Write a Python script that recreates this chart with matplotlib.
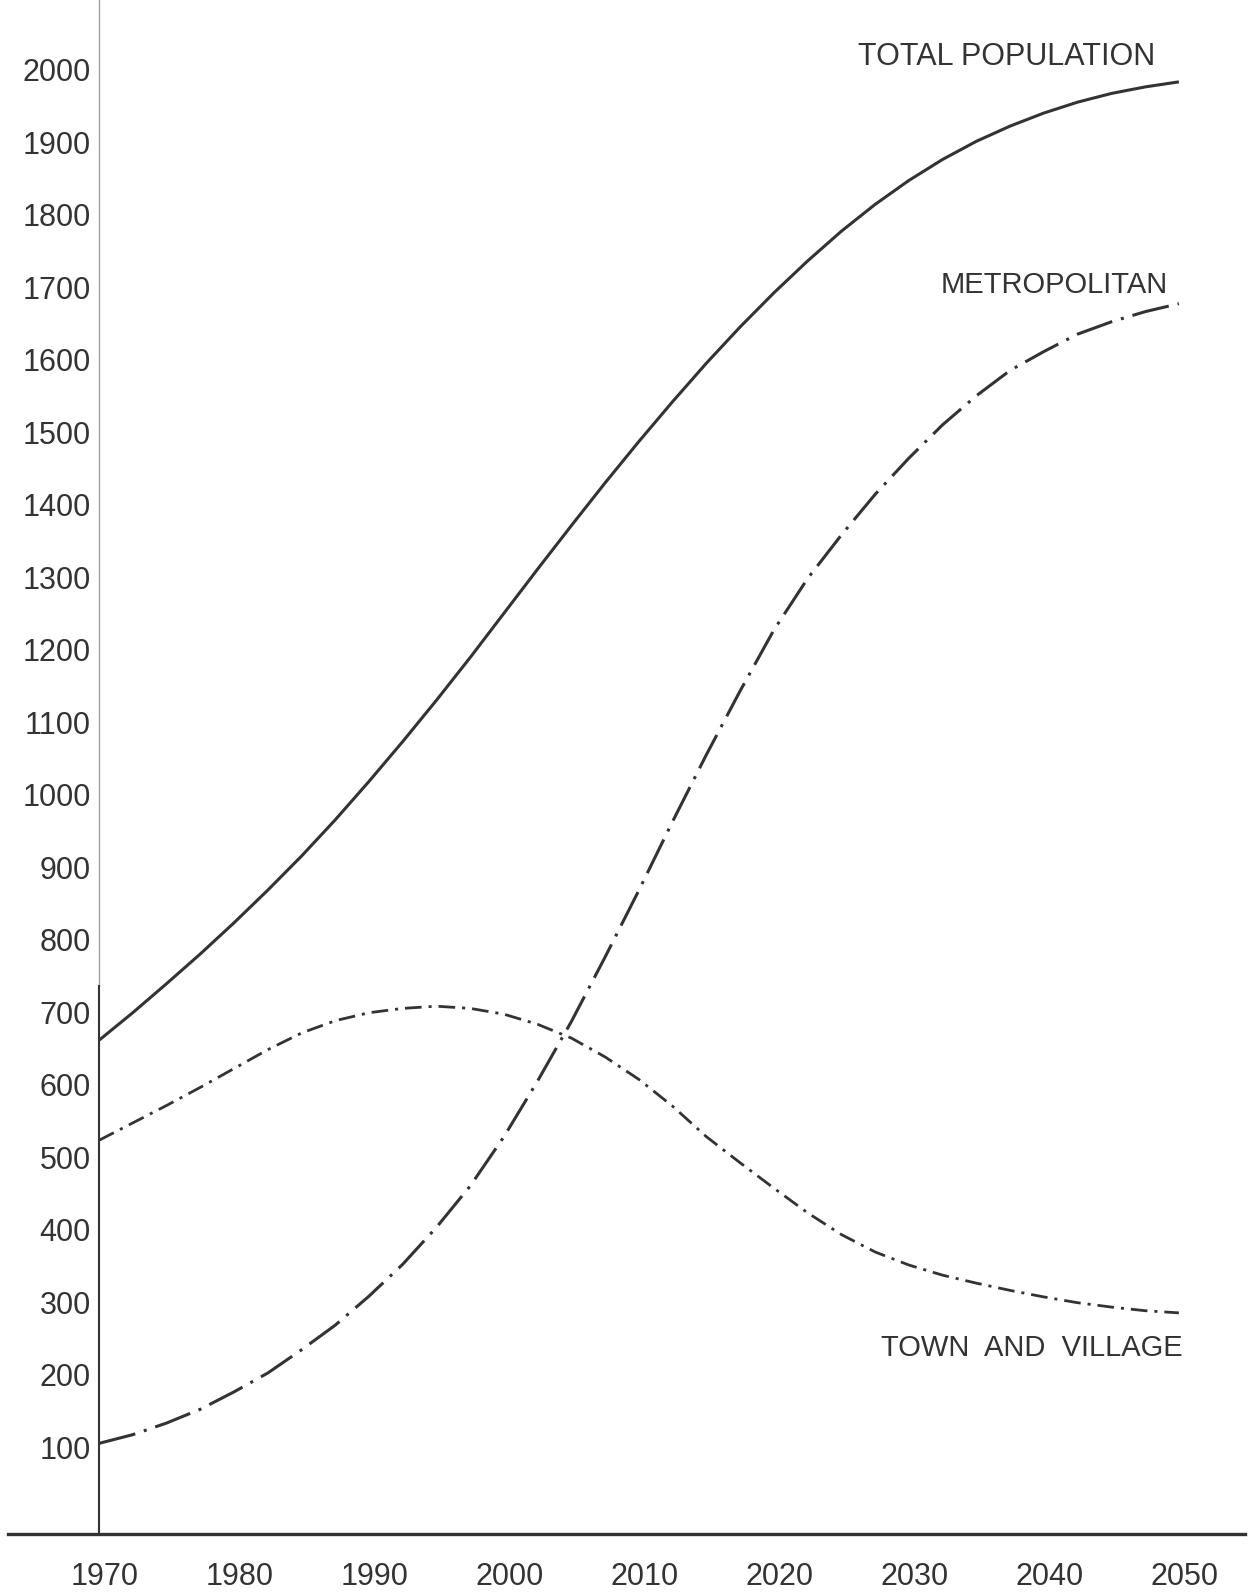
import matplotlib
matplotlib.use("Agg")
import matplotlib.pyplot as plt
from matplotlib.transforms import ScaledTranslation

# ---- data ----
years = [1970, 1972.5, 1975, 1977.5, 1980, 1982.5, 1985, 1987.5, 1990, 1992.5,
         1995, 1997.5, 2000, 2002.5, 2005, 2007.5, 2010, 2012.5, 2015, 2017.5,
         2020, 2022.5, 2025, 2027.5, 2030, 2032.5, 2035, 2037.5, 2040, 2042.5,
         2045, 2047.5, 2050]
total_population = [661, 699, 739, 780, 823, 868, 915, 965, 1018, 1073,
                    1130, 1189, 1250, 1311, 1371, 1430, 1487, 1542, 1595, 1645,
                    1692, 1736, 1777, 1814, 1847, 1876, 1901, 1922, 1940, 1955,
                    1967, 1976, 1983]
metropolitan = [105, 117, 133, 152, 176, 202, 234, 268, 308, 352,
                403, 460, 528, 605, 687, 776, 868, 963, 1055, 1143,
                1227, 1298, 1358, 1414, 1464, 1510, 1550, 1585, 1611, 1635,
                1652, 1666, 1677]
town_and_village = [523, 547, 571, 596, 622, 648, 671, 688, 699, 705,
                    708, 705, 697, 683, 664, 638, 607, 570, 528, 492,
                    457, 423, 393, 369, 351, 337, 326, 316, 307, 299,
                    293, 288, 285]

y_ticks = list(range(100, 2001, 100))
y_tick_labels = [str(v) for v in y_ticks]
x_ticks = list(range(1970, 2051, 10))
x_tick_labels = [str(v) for v in x_ticks]

label_total = "TOTAL POPULATION"
label_metro = "METROPOLITAN"
label_town = "TOWN  AND  VILLAGE"

# ---- style ----
INK = "#333333"
plt.rcParams["font.family"] = ["Liberation Sans", "DejaVu Sans"]
plt.rcParams["lines.scale_dashes"] = False

W, H = 1254, 1594
fig = plt.figure(figsize=(W / 100, H / 100), dpi=100)
fig.patch.set_facecolor("white")

ax = fig.add_axes([8 / W, (H - 1534) / H, (1245 - 8) / W, 1534 / H])
ax.set_xlim(1963.26, 2054.9)
ax.set_ylim(-20, 2095.9)

ax.plot(years, total_population, color=INK, lw=2.2,
        solid_capstyle="butt", solid_joinstyle="round")
ax.plot(years, metropolitan, color=INK, lw=2.2,
        dashes=(27, 6.5, 2.2, 6.5), dash_capstyle="butt")
ax.plot(years, town_and_village, color=INK, lw=2.0,
        dashes=(12, 5, 2.2, 5), dash_capstyle="butt")

for s in ("top", "right"):
    ax.spines[s].set_visible(False)
ax.spines["left"].set_position(("data", 1970))
ax.spines["left"].set_linewidth(1.5)
ax.spines["left"].set_color(INK)
ax.spines["left"].set_bounds(-20, 736)
# faint upper part of the vertical axis (as in the scanned original)
ax.plot([1970, 1970], [736, 2095.9], color="#9a9a9a", lw=0.9, zorder=1)
ax.spines["bottom"].set_linewidth(2.4)
ax.spines["bottom"].set_color(INK)

ax.set_yticks(y_ticks)
ax.set_yticklabels(y_tick_labels)
ax.set_xticks(x_ticks)
ax.set_xticklabels(x_tick_labels)
ax.tick_params(axis="y", length=0, pad=6, labelsize=22, labelcolor=INK)
ax.tick_params(axis="x", length=0, pad=20, labelsize=22, labelcolor=INK)
shift = ScaledTranslation(6 / 100, 0, fig.dpi_scale_trans)
for lab in ax.get_xticklabels():
    lab.set_transform(lab.get_transform() + shift)

fig.text(1155 / W, 1 - 57 / H, label_total, ha="right", va="center",
         fontsize=22, color=INK)
fig.text(1168 / W, 1 - 285 / H, label_metro, ha="right", va="center",
         fontsize=21, color=INK)
fig.text(1183 / W, 1 - 1348 / H, label_town, ha="right", va="center",
         fontsize=21, color=INK)

fig.savefig("out.png", dpi=100, facecolor="white")
